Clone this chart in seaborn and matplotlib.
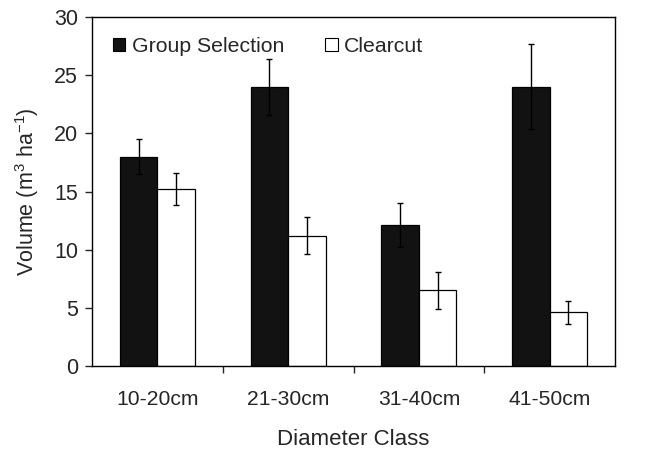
import matplotlib
matplotlib.use("Agg")
import matplotlib.pyplot as plt
import seaborn as sns
import pandas as pd
from matplotlib.patches import Patch
from matplotlib.ticker import FixedLocator

categories = ["10-20cm", "21-30cm", "31-40cm", "41-50cm"]
group_selection = [18.0, 24.0, 12.1, 24.0]
group_err = [1.5, 2.4, 1.9, 3.65]
clearcut = [15.2, 11.2, 6.5, 4.6]
clearcut_err = [1.4, 1.6, 1.6, 1.0]
series = ["Group Selection", "Clearcut"]

sns.set_style("ticks")
plt.rcParams["font.family"] = ["Liberation Sans", "DejaVu Sans"]
plt.rcParams["mathtext.default"] = "regular"

df = pd.DataFrame({
    "cat": categories * 2,
    "vol": group_selection + clearcut,
    "err": group_err + clearcut_err,
    "treat": [series[0]] * 4 + [series[1]] * 4,
})

fig = plt.figure(figsize=(6.53, 4.54), dpi=100)
ax = fig.add_axes([92 / 653, 1 - 366 / 454, (615 - 92) / 653, (366 - 17) / 454])

sns.barplot(data=df, x="cat", y="vol", hue="treat", order=categories,
            hue_order=series, palette=["#121212", "white"], edgecolor="black",
            linewidth=0.9, width=0.575, gap=0, errorbar=None, legend=False, ax=ax)

for cont, (vals, errs) in zip(ax.containers, [(group_selection, group_err), (clearcut, clearcut_err)]):
    xs = [p.get_x() + p.get_width() / 2 for p in cont.patches]
    ax.errorbar(xs, vals, yerr=errs, fmt="none", ecolor="black",
                elinewidth=1.0, capsize=2.5, capthick=1.0, zorder=5)

ax.set_ylim(0, 30)
ax.set_xlim(-0.5, 3.5)
ax.set_yticks([0, 5, 10, 15, 20, 25, 30])
ax.set_xticks(range(4))
ax.set_xticklabels(categories)
ax.xaxis.set_minor_locator(FixedLocator([0.5, 1.5, 2.5]))
ax.tick_params(axis="x", which="major", length=0, pad=17, labelsize=15.2)
ax.tick_params(axis="x", which="minor", length=5, width=1, direction="out")
ax.tick_params(axis="y", length=5, width=1, labelsize=15.5, pad=5)
for s in ax.spines.values():
    s.set_visible(True)
    s.set_linewidth(1.0)
    s.set_color("black")

ax.set_xlabel("Diameter Class", fontsize=16, labelpad=15)
ax.set_ylabel("Volume (m$^{3}$ ha$^{-1}$)", fontsize=15.5, labelpad=9)

handles = [Patch(facecolor="#121212", edgecolor="black", linewidth=0.8),
           Patch(facecolor="white", edgecolor="black", linewidth=0.8)]
ax.legend(handles, series, ncol=2, loc="upper left", frameon=False,
          fontsize=15.3, handlelength=0.6, handleheight=0.6, handletextpad=0.3,
          columnspacing=1.92, bbox_to_anchor=(0.011, 0.985), borderaxespad=0.3)

fig.savefig("out.png", dpi=100)
